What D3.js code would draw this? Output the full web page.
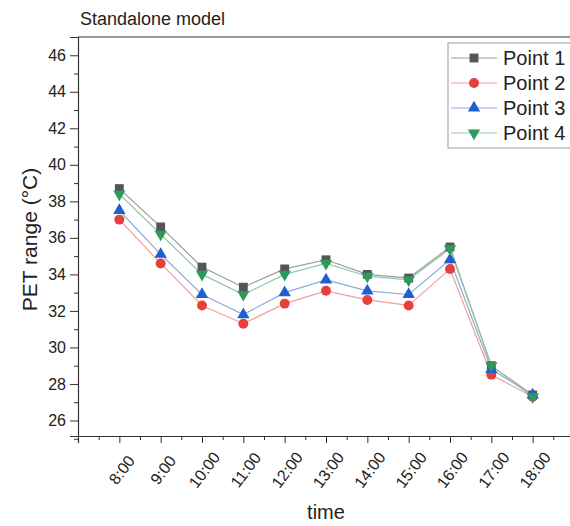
<!DOCTYPE html>
<html lang="en">
<head>
  <meta charset="UTF-8">
  <title>Standalone model</title>
  <script src="https://d3js.org/d3.v7.min.js"></script>
  <style>
    body { margin: 0; background: #fff; overflow: hidden; }
    svg { display: block; font-family: "Liberation Sans", Arial, sans-serif; }
  </style>
</head>
<body>
  <svg width="570" height="526"></svg>
  <script>
  // values
  const times = ["8:00", "9:00", "10:00", "11:00", "12:00", "13:00", "14:00", "15:00", "16:00", "17:00", "18:00"];
  const hours = [8, 9, 10, 11, 12, 13, 14, 15, 16, 17, 18];
  const point1 = [38.7, 36.6, 34.4, 33.3, 34.3, 34.8, 34.0, 33.8, 35.5, 29.0, 27.4];
  const point2 = [37.0, 34.6, 32.3, 31.3, 32.4, 33.1, 32.6, 32.3, 34.3, 28.5, 27.3];
  const point3 = [37.5, 35.1, 32.9, 31.8, 33.0, 33.7, 33.1, 32.9, 34.8, 28.8, 27.4];
  const point4 = [38.4, 36.2, 34.0, 32.9, 34.0, 34.6, 33.9, 33.7, 35.4, 29.0, 27.3];
  const seriesNames = ["Point 1", "Point 2", "Point 3", "Point 4"];
  const yTicks = [26, 28, 30, 32, 34, 36, 38, 40, 42, 44, 46];

  const series = [
    { name: seriesNames[0], values: point1, color: "#555555", line: "#9a9a9a", symbol: d3.symbolSquare, size: 78 },
    { name: seriesNames[1], values: point2, color: "#e5403c", line: "#f0a09c", symbol: d3.symbolCircle, size: 78 },
    { name: seriesNames[2], values: point3, color: "#1f5fd1", line: "#8fa9dc", symbol: d3.symbolTriangle, size: 66 },
    { name: seriesNames[3], values: point4, color: "#2c9a5a", line: "#93c9a5", symbol: d3.symbolTriangle, size: 66, flip: true }
  ];

  const svg = d3.select("svg");
  const mLeft = 78, mRight = 574, mTop = 37, mBottom = 436;

  const x = d3.scaleLinear().domain([7, 19]).range([mLeft, mRight]);
  const y = d3.scaleLinear().domain([25.15, 47]).range([mBottom, mTop]);

  // frame: top line
  svg.append("line")
     .attr("x1", mLeft).attr("x2", 570)
     .attr("y1", mTop).attr("y2", mTop)
     .attr("stroke", "#333").attr("stroke-width", 1.2);

  // y axis
  const yAxis = svg.append("g")
    .attr("transform", `translate(${mLeft},0)`)
    .call(d3.axisLeft(y).tickValues(yTicks).tickSize(8).tickPadding(4).tickFormat(d3.format("d")));
  svg.append("g")
    .attr("transform", `translate(${mLeft},0)`)
    .call(d3.axisLeft(y).tickValues(d3.range(25, 47, 2)).tickSize(4).tickFormat(""))
    .call(g => g.select(".domain").remove());

  // x axis
  const xAxis = svg.append("g")
    .attr("transform", `translate(0,${mBottom})`)
    .call(d3.axisBottom(x).tickValues(hours).tickSize(7).tickFormat((d, i) => times[i]));
  svg.append("g")
    .attr("transform", `translate(0,${mBottom})`)
    .call(d3.axisBottom(x).tickValues(d3.range(7.5, 19, 1).concat([7])).tickSize(4).tickFormat(""))
    .call(g => g.select(".domain").remove());

  svg.selectAll(".domain").attr("stroke", "#333").attr("stroke-width", 1.2);
  svg.selectAll(".tick line").attr("stroke", "#333").attr("stroke-width", 1);

  yAxis.selectAll("text").attr("font-size", 16).attr("fill", "#222").attr("font-family", "Liberation Sans, Arial, sans-serif");
  xAxis.selectAll("text")
    .attr("font-size", 16).attr("fill", "#222")
    .attr("font-family", "Liberation Sans, Arial, sans-serif")
    .attr("text-anchor", "middle")
    .attr("dy", null)
    .attr("y", 0)
    .attr("transform", "translate(2,34) rotate(-53)")
    .attr("dominant-baseline", "central");

  // lines
  const line = d3.line().x((d, i) => x(hours[i])).y(d => y(d));
  series.forEach(s => {
    svg.append("path")
       .datum(s.values)
       .attr("fill", "none")
       .attr("stroke", s.line)
       .attr("stroke-width", 1.2)
       .attr("d", line);
  });

  // markers
  series.forEach(s => {
    svg.append("g").selectAll("path")
       .data(s.values)
       .join("path")
       .attr("d", d3.symbol().type(s.symbol).size(s.size))
       .attr("transform", (d, i) => `translate(${x(hours[i])},${y(d)})${s.flip ? " rotate(180)" : ""}`)
       .attr("fill", s.color);
  });

  // title
  svg.append("text")
     .attr("x", 80).attr("y", 25)
     .attr("font-size", 18).attr("fill", "#222")
     .text("Standalone model");

  // axis titles
  svg.append("text")
     .attr("transform", `translate(37,${(mTop + mBottom) / 2 + 3}) rotate(-90)`)
     .attr("text-anchor", "middle")
     .attr("font-size", 21).attr("fill", "#222")
     .text("PET range (°C)");

  svg.append("text")
     .attr("x", x(13)).attr("y", 519)
     .attr("text-anchor", "middle")
     .attr("font-size", 20).attr("fill", "#222")
     .text("time");

  // legend
  const legend = svg.append("g").attr("transform", "translate(448,43)");
  legend.append("rect")
        .attr("width", 130).attr("height", 105)
        .attr("fill", "#fff").attr("stroke", "#999").attr("stroke-width", 1);
  series.forEach((s, i) => {
    const row = legend.append("g").attr("transform", `translate(0,${15 + i * 25})`);
    row.append("line").attr("x1", 3).attr("x2", 49).attr("stroke", s.line).attr("stroke-width", 1.2);
    row.append("path")
       .attr("d", d3.symbol().type(s.symbol).size(s.size))
       .attr("transform", `translate(26,0)${s.flip ? " rotate(180)" : ""}`)
       .attr("fill", s.color);
    row.append("text")
       .attr("x", 55).attr("y", 0).attr("dy", "0.35em")
       .attr("font-size", 20).attr("fill", "#222")
       .text(s.name);
  });
  </script>
</body>
</html>
